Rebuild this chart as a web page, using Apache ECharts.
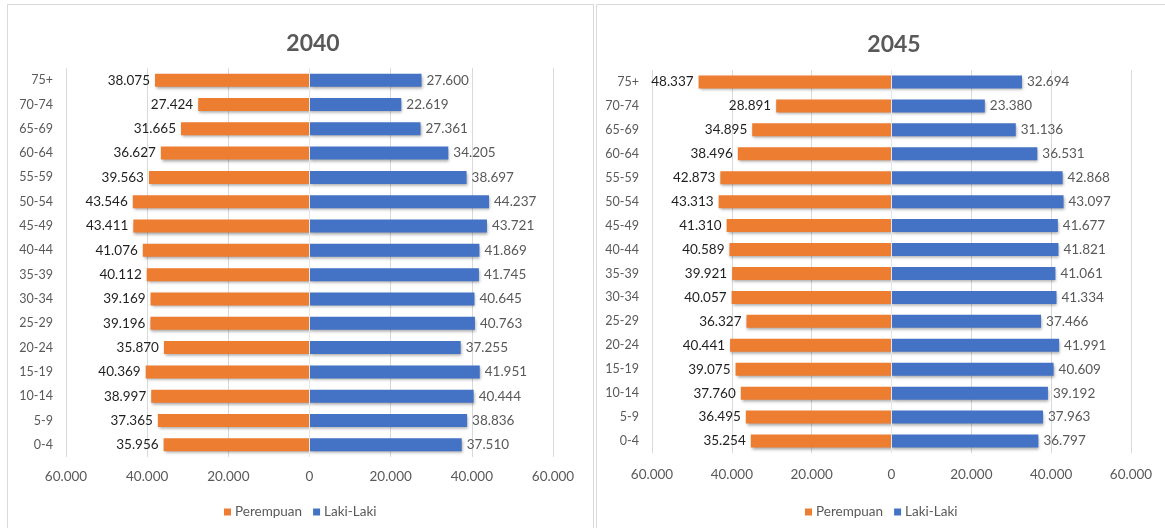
<!DOCTYPE html>
<html>
<head>
<meta charset="utf-8">
<style>
  html, body { margin: 0; padding: 0; background: #ffffff; }
  #chart { width: 1165px; height: 528px; }
</style>
<script src="https://cdn.jsdelivr.net/npm/echarts@6/dist/echarts.min.js"></script>
</head>
<body>
<div id="chart"></div>
<script>
// Age groups, listed from the top row to the bottom row
const ageGroups = ['75+', '70-74', '65-69', '60-64', '55-59', '50-54', '45-49', '40-44',
                   '35-39', '30-34', '25-29', '20-24', '15-19', '10-14', '5-9', '0-4'];

// 2040 projection
const female2040 = [38075, 27424, 31665, 36627, 39563, 43546, 43411, 41076,
                    40112, 39169, 39196, 35870, 40369, 38997, 37365, 35956];
const male2040   = [27600, 22619, 27361, 34205, 38697, 44237, 43721, 41869,
                    41745, 40645, 40763, 37255, 41951, 40444, 38836, 37510];

// 2045 projection
const female2045 = [48337, 28891, 34895, 38496, 42873, 43313, 41310, 40589,
                    39921, 40057, 36327, 40441, 39075, 37760, 36495, 35254];
const male2045   = [32694, 23380, 31136, 36531, 42868, 43097, 41677, 41821,
                    41061, 41334, 37466, 41991, 40609, 39192, 37963, 36797];

const panelTitles = ['2040', '2045'];
const seriesNames = ['Perempuan', 'Laki-Laki'];

const FONT = 'Lato, "Open Sans", sans-serif';
const ORANGE = '#ED7D31';
const BLUE = '#4472C4';
const GRID_COLOR = '#D9D9D9';
const TEXT_GRAY = '#595959';

// Thousands grouped with dots, sign dropped (the left side is stored negative)
function fmt(v) {
  return String(Math.abs(Math.round(v))).replace(/\B(?=(\d{3})+(?!\d))/g, '.');
}

const chart = echarts.init(document.getElementById('chart'), null, { renderer: 'canvas' });

const grids = [
  { left: 66, right: 612, top: 68, bottom: 71 },
  { left: 652, right: 34, top: 70, bottom: 75 }
];
const labelMargins = [13, 15];

function xAxisFor(i) {
  return {
    type: 'value', gridIndex: i, min: -60000, max: 60000, interval: 20000,
    axisLine: { show: false }, axisTick: { show: false },
    splitLine: { show: true, lineStyle: { color: GRID_COLOR, width: 1 } },
    axisLabel: { formatter: fmt, color: TEXT_GRAY, fontFamily: FONT, fontSize: 13.5, margin: labelMargins[i] }
  };
}
function yAxisFor(i) {
  return {
    type: 'category', gridIndex: i, data: ageGroups, inverse: true,
    axisLine: { show: false }, axisTick: { show: false }, splitLine: { show: false },
    axisLabel: { color: TEXT_GRAY, fontFamily: FONT, fontSize: 12.5, margin: 13 }
  };
}

const barShadow = { shadowColor: 'rgba(0,0,0,0.35)', shadowBlur: 3, shadowOffsetX: 1, shadowOffsetY: 2 };

function femaleSeries(values, i) {
  return {
    name: seriesNames[0], type: 'bar', xAxisIndex: i, yAxisIndex: i,
    data: values.map(v => -v), barWidth: 13, barGap: '-100%',
    itemStyle: Object.assign({ color: ORANGE }, barShadow),
    label: { show: true, position: 'left', distance: 5, formatter: p => fmt(p.value),
             color: '#1f1f1f', fontFamily: FONT, fontSize: 13.5 }
  };
}
function maleSeries(values, i) {
  return {
    name: seriesNames[1], type: 'bar', xAxisIndex: i, yAxisIndex: i,
    data: values.slice(), barWidth: 13, barGap: '-100%',
    itemStyle: Object.assign({ color: BLUE }, barShadow),
    label: { show: true, position: 'right', distance: 5, formatter: p => fmt(p.value),
             color: TEXT_GRAY, fontFamily: FONT, fontSize: 13.5 },
    // light vertical axis line at zero, drawn over the bars
    markLine: {
      silent: true, symbol: 'none', z: 10,
      lineStyle: { color: '#E6E6E6', width: 1, type: 'solid' },
      label: { show: false },
      data: [{ xAxis: 0 }]
    }
  };
}

const legendBase = {
  data: seriesNames, icon: 'rect', itemWidth: 7, itemHeight: 7, itemGap: 11,
  textStyle: { color: TEXT_GRAY, fontFamily: FONT, fontSize: 13.5, padding: [0, 0, 0, -1] }
};

chart.setOption({
  animation: false,
  backgroundColor: '#ffffff',
  grid: grids,
  xAxis: [xAxisFor(0), xAxisFor(1)],
  yAxis: [yAxisFor(0), yAxisFor(1)],
  legend: [
    Object.assign({ left: 219, top: 500 }, legendBase),
    Object.assign({ left: 800, top: 500 }, legendBase)
  ],
  series: [
    femaleSeries(female2040, 0), maleSeries(male2040, 0),
    femaleSeries(female2045, 1), maleSeries(male2045, 1)
  ],
  graphic: [
    // panel frames
    { type: 'rect', silent: true, z: -1, shape: { x: 7.5, y: 4.5, width: 586, height: 540 },
      style: { fill: 'none', stroke: GRID_COLOR, lineWidth: 1 } },
    { type: 'rect', silent: true, z: -1, shape: { x: 596.5, y: 4.5, width: 600, height: 540 },
      style: { fill: 'none', stroke: GRID_COLOR, lineWidth: 1 } },
    // panel titles
    { type: 'text', x: 313, y: 44, silent: true,
      style: { text: panelTitles[0], fill: TEXT_GRAY, font: 'bold 23px ' + FONT,
               textAlign: 'center', textVerticalAlign: 'middle' } },
    { type: 'text', x: 894, y: 45, silent: true,
      style: { text: panelTitles[1], fill: TEXT_GRAY, font: 'bold 23px ' + FONT,
               textAlign: 'center', textVerticalAlign: 'middle' } }
  ]
});
</script>
</body>
</html>
